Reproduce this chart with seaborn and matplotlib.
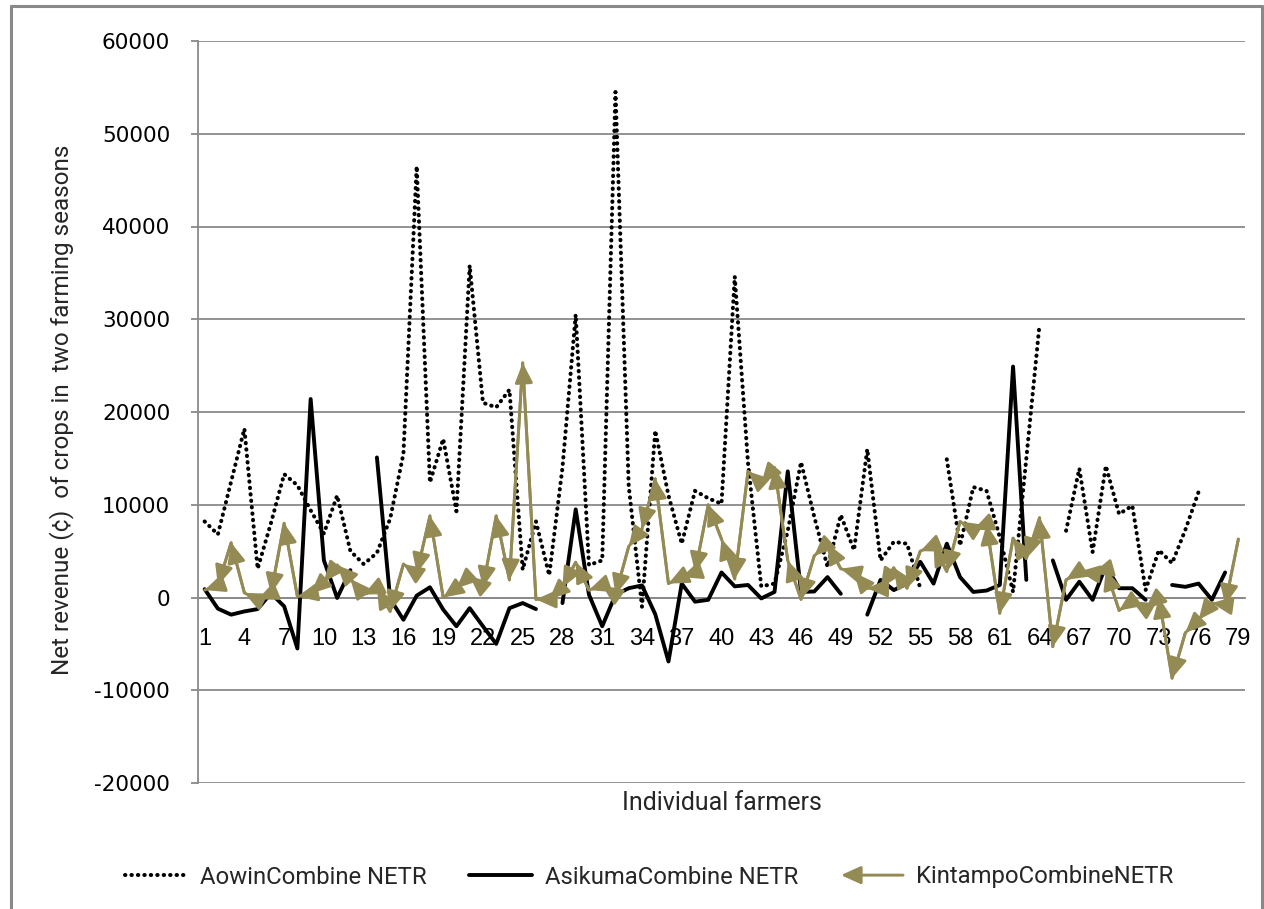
import numpy as np
import pandas as pd
import matplotlib
matplotlib.use("Agg")
import matplotlib.pyplot as plt
import seaborn as sns
from matplotlib.lines import Line2D
from matplotlib.patches import FancyArrowPatch
from matplotlib.legend_handler import HandlerBase

# Net revenue per farmer (79 farmers), None = no record
farmers = list(range(1, 80))

aowin = [8200, 6800, 12500, 18200, 3100, 8000, 13300, 12100, 9400, 6900,
         11000, 5000, 3600, 4800, 8500, 15500, 46500, 12400, 17100, 9300,
         35800, 21000, 20500, 22400, 3000, 8200, 2400, 14000, 30500, 3500,
         4000, 54500, 12000, -1000, 18000, 11000, 5800, 11500, 10700, 10100,
         34600, 14500, 1200, 1500, 7200, 14600, 8700, 3300, 8900, 5100,
         16000, 4000, 6000, 5800, 1000, None, 14900, 5600, 11900, 11500,
         6500, 600, 15000, 29500, None, 7200, 13900, 4900, 14200, 9000,
         9900, 800, 5100, 3700, 7300, 11400, None, None, None]

asikuma = [900, -1200, -1850, -1500, -1250, 450, -950, -5500, 21400, 4000,
           -50, 2950, None, 15100, -150, -2400, 200, 1100, -1300, -3100,
           -1150, -3100, -5000, -1150, -600, -1250, None, -600, 9500, 300,
           -3100, 300, 1000, 1300, -1800, -6900, 1500, -450, -250, 2700,
           1200, 1350, -100, 600, 13600, 600, 650, 2200, 400, None,
           -1850, 1900, 800, 1500, 3850, 1500, 5800, 2200, 600, 750,
           1350, 24900, 1900, None, 4000, -250, 1700, -250, 3400, 1000,
           1000, -250, None, 1350, 1150, 1500, -250, 2700, None]

kintampo = [800, 1300, 5900, 500, -200, 400, 8000, 100, 400, 1700,
            3500, 2000, 300, 1000, -1500, 3600, 2600, 8800, 0, 1000,
            2300, 1100, 8800, 1900, 25300, -200, -200, 1100, 3800, 800,
            1300, 300, 5500, 7400, 12800, 1500, 2200, 2700, 10000, 6300,
            2000, 13600, 12300, 14000, 4000, -200, 4500, 5800, 3100, 2700,
            1000, 1000, 3200, 1000, 5000, 5600, 2800, 8200, 7300, 7900,
            -1700, 6400, 4200, 8600, -5300, 1900, 2800, 2600, 3000, -1400,
            -400, -1200, 0, -8700, -3800, -2400, -600, -800, 6300]

series_names = ["AowinCombine NETR", "AsikumaCombine NETR", "KintampoCombineNETR"]
x_tick_labels = [str(v) for v in range(1, 80, 3)]
y_ticks = list(range(-20000, 60001, 10000))

OLIVE = "#948A54"
GRID = "#898989"
ARROW = "-|>,head_length=0.8,head_width=0.36"


def runs_frame(values, name):
    """Long-form frame with a run id so missing values break the line."""
    rows, run, prev_missing = [], 0, True
    for f, v in zip(farmers, values):
        if v is None:
            prev_missing = True
            continue
        if prev_missing:
            run += 1
            prev_missing = False
        rows.append({"farmer": f, "value": v, "run": run, "series": name})
    return pd.DataFrame(rows)


df_a = runs_frame(aowin, series_names[0])
df_b = runs_frame(asikuma, series_names[1])
df_c = runs_frame(kintampo, series_names[2])

sns.set_theme(style="white")
plt.rcParams["font.family"] = ["DejaVu Sans"]

fig = plt.figure(figsize=(12.64, 9.09), dpi=100)
ax = fig.add_axes([198 / 1264, 1 - 783 / 909, (1245 - 198) / 1264, (783 - 41) / 909])

dot_style = (0, (0.1, 1.5))
sns.lineplot(data=df_a, x="farmer", y="value", units="run", estimator=None,
             color="black", linewidth=2.9, linestyle=dot_style,
             dash_capstyle="round", ax=ax, legend=False, zorder=3)
sns.lineplot(data=df_b, x="farmer", y="value", units="run", estimator=None,
             color="black", linewidth=2.8, ax=ax, legend=False, zorder=4)
sns.lineplot(data=df_c, x="farmer", y="value", units="run", estimator=None,
             color=OLIVE, linewidth=2.1, ax=ax, legend=False, zorder=5)

# arrowhead at the start of every Kintampo segment, pointing back at its start point
for i in range(len(kintampo) - 1):
    v0, v1 = kintampo[i], kintampo[i + 1]
    if v0 is None or v1 is None:
        continue
    ax.annotate("", xy=(farmers[i], v0), xytext=(farmers[i + 1], v1),
                arrowprops=dict(arrowstyle=ARROW, mutation_scale=15,
                                color=OLIVE, lw=2.1, shrinkA=0, shrinkB=0),
                zorder=6)

# axis layout: category axis crosses at zero
ax.spines["bottom"].set_position(("data", 0))
ax.set_xlim(0.5, 79.5)
ax.set_ylim(-20000, 60000)
ax.set_yticks(y_ticks)
ax.set_yticklabels([str(v) for v in y_ticks])
ax.set_xticks(range(1, 80, 3))
ax.set_xticklabels(x_tick_labels)
ax.set_xlabel("")
ax.set_ylabel("")

ax.yaxis.grid(True, color=GRID, linewidth=1.3)
ax.xaxis.grid(False)
for side in ["top", "right"]:
    ax.spines[side].set_visible(False)
ax.spines["left"].set_color(GRID)
ax.spines["left"].set_linewidth(1.3)
ax.spines["bottom"].set_color(GRID)
ax.spines["bottom"].set_linewidth(1.3)
ax.tick_params(axis="y", which="major", left=True, length=5, width=1.3,
               color=GRID, pad=15, labelcolor="black", labelsize=15.5,
               labelfontfamily="DejaVu Sans")
ax.tick_params(axis="x", which="major", bottom=False, length=0, pad=22,
               labelcolor="black", labelsize=17, labelfontfamily="Liberation Sans")

label_font = ["Roboto", "DejaVu Sans"]
fig.text(62 / 1264, 1 - 410 / 909,
         "Net revenue (\u00a2)  of crops in  two farming seasons",
         rotation=90, ha="center", va="center", fontsize=17.5, family=label_font)
fig.text(722 / 1264, 1 - 803 / 909, "Individual farmers",
         ha="center", va="center", fontsize=18, family=label_font)


class ArrowHandle(HandlerBase):
    def create_artists(self, legend, orig_handle, xdescent, ydescent,
                       width, height, fontsize, trans):
        y = height / 2 - ydescent
        arrow = FancyArrowPatch((width - xdescent, y), (-xdescent, y),
                                arrowstyle=ARROW, mutation_scale=15,
                                color=OLIVE, lw=2.1, shrinkA=0, shrinkB=0,
                                transform=trans)
        return [arrow]


h_a = Line2D([], [], color="black", lw=2.9, linestyle=dot_style, dash_capstyle="round")
h_b = Line2D([], [], color="black", lw=2.8)
h_c = Line2D([], [], color=OLIVE, lw=2.1)
fig.legend([h_a, h_b, h_c], series_names, loc="center",
           bbox_to_anchor=(649 / 1264, 1 - 877 / 909), ncol=3, frameon=False,
           prop={"family": label_font, "size": 17.2}, handlelength=2.6,
           handletextpad=0.55, columnspacing=1.8,
           handler_map={h_c: ArrowHandle()})

# outer frame of the chart area
for xs, ys in [((11 / 1264, 11 / 1264), (0, 1 - 6 / 909)),
               ((11 / 1264, 1262 / 1264), (1 - 6 / 909, 1 - 6 / 909)),
               ((1262 / 1264, 1262 / 1264), (0, 1 - 6 / 909))]:
    fig.add_artist(Line2D(xs, ys, transform=fig.transFigure, color=GRID, lw=2.2))

fig.savefig("out.png", dpi=100, facecolor="white")
